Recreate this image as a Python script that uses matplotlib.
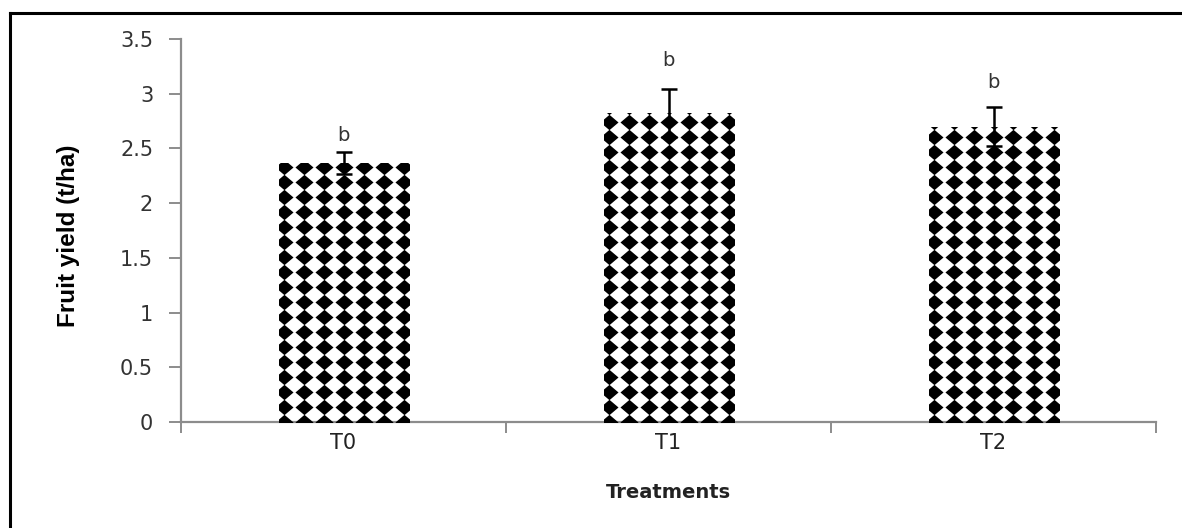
import matplotlib
matplotlib.use("Agg")
import matplotlib.pyplot as plt
import numpy as np
from matplotlib.path import Path
from matplotlib.lines import Line2D

categories = ["T0", "T1", "T2"]
yield_values = [2.37, 2.82, 2.70]
yield_errors = [0.10, 0.22, 0.18]
letters = ["b", "b", "b"]
letter_y = [2.53, 3.22, 3.02]
y_ticks = [0, 0.5, 1, 1.5, 2, 2.5, 3, 3.5]
y_tick_labels = ["0", "0.5", "1", "1.5", "2", "2.5", "3", "3.5"]

W, H, DPI = 1182, 528, 100
fig = plt.figure(figsize=(W / DPI, H / DPI), dpi=DPI)
fig.patch.set_facecolor("white")

# outer frame (top and left edges visible)
fig.add_artist(Line2D([10 / W, 1.0], [1 - 13 / H, 1 - 13 / H], color="black", lw=2.2, transform=fig.transFigure))
fig.add_artist(Line2D([10 / W, 10 / W], [0, 1 - 13 / H], color="black", lw=2.2, transform=fig.transFigure))

ax_l, ax_r, ax_b, ax_t = 181, 1156, 422, 39
ax = fig.add_axes([ax_l / W, 1 - ax_b / H, (ax_r - ax_l) / W, (ax_b - ax_t) / H])

x = np.arange(len(categories))
bar_w = 0.40
bars = ax.bar(x, yield_values, width=bar_w, color="white", edgecolor="none", zorder=2)

ax.set_xlim(-0.5, len(categories) - 0.5)
ax.set_ylim(0, 3.5)

# diamond pattern fill
px_per_x = (ax_r - ax_l) / len(categories)
px_per_y = (ax_b - ax_t) / 3.5
dx = 20 / px_per_x
dy = 15 / px_per_y
diamond = Path([(-1, 0), (0, 0.85), (1, 0), (0, -0.85), (-1, 0)],
               [Path.MOVETO, Path.LINETO, Path.LINETO, Path.LINETO, Path.CLOSEPOLY])
for b in bars:
    x0, w, h = b.get_x(), b.get_width(), b.get_height()
    ncol = int(np.ceil(w / dx)) + 2
    cx = x0 + w / 2 + (np.arange(ncol) - (ncol - 1) / 2) * dx
    cy = np.arange(0, h + dy, dy)
    gx, gy = np.meshgrid(cx, cy)
    sc = ax.scatter(gx.ravel(), gy.ravel(), marker=diamond, s=13 ** 2, c="black",
                    linewidths=0, zorder=3)
    sc.set_clip_path(b)

ax.errorbar(x, yield_values, yerr=yield_errors, fmt="none", ecolor="black",
            elinewidth=1.8, capsize=6, capthick=1.8, zorder=4)

for xi, ly, t in zip(x, letter_y, letters):
    ax.text(xi, ly, t, ha="center", va="bottom", fontsize=14, color="#333333",
            family="DejaVu Sans")

for s in ["top", "right"]:
    ax.spines[s].set_visible(False)
for s in ["left", "bottom"]:
    ax.spines[s].set_color("#8c8c8c")
    ax.spines[s].set_linewidth(1.6)

ax.set_yticks(y_ticks)
ax.set_yticklabels(y_tick_labels)
ax.tick_params(axis="y", direction="out", length=9, width=1.4, color="#8c8c8c",
               labelsize=15, labelcolor="#333333", pad=11)
ax.set_xticks(x)
ax.set_xticklabels(categories)
ax.tick_params(axis="x", length=0, labelsize=15, labelcolor="#222222", pad=8)
ax.set_xticks(np.arange(len(categories) + 1) - 0.5, minor=True)
ax.tick_params(axis="x", which="minor", direction="out", length=8, width=1.4, color="#8c8c8c")
for lbl in ax.get_xticklabels() + ax.get_yticklabels():
    lbl.set_family("DejaVu Sans")

ax.set_xlabel("Treatments", fontsize=14, fontweight="bold", family="DejaVu Sans",
              color="#222222")
ax.xaxis.set_label_coords(0.5, -(483 - ax_b) / (ax_b - ax_t))
ax.set_ylabel("Fruit yield (t/ha)", fontsize=17.5, fontweight="bold", family="Liberation Sans",
              color="black")
ax.yaxis.set_label_coords(-(ax_l - 80) / (ax_r - ax_l), (ax_b - 236) / (ax_b - ax_t))

fig.savefig("out.png", dpi=DPI, facecolor="white")
